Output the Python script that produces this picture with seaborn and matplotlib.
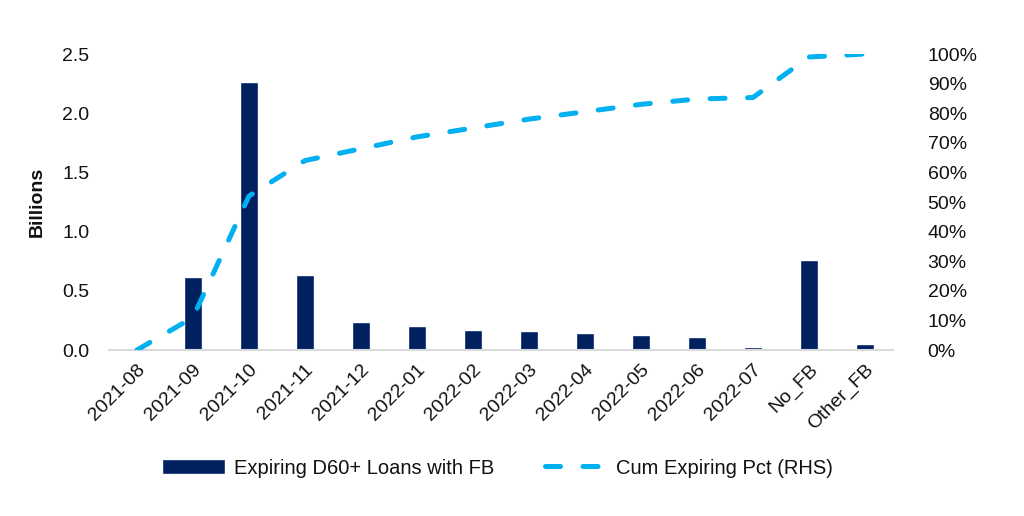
import matplotlib
matplotlib.use("Agg")
import matplotlib.pyplot as plt
import matplotlib.ticker as tkr
import pandas as pd
import seaborn as sns

sns.set_style("white")
plt.rcParams['font.family'] = ['Liberation Sans', 'DejaVu Sans']
plt.rcParams['text.color'] = '#111111'
plt.rcParams['xtick.color'] = '#111111'
plt.rcParams['ytick.color'] = '#111111'
plt.rcParams['axes.labelcolor'] = '#111111'

categories = ['2021-08', '2021-09', '2021-10', '2021-11', '2021-12', '2022-01', '2022-02',
              '2022-03', '2022-04', '2022-05', '2022-06', '2022-07', 'No_FB', 'Other_FB']
loans_bn = [0.0, 0.62, 2.26, 0.63, 0.236, 0.20, 0.17, 0.163, 0.14, 0.127, 0.112, 0.025, 0.76, 0.048]
cum_pct = [0.0, 0.11, 0.52, 0.64, 0.68, 0.72, 0.75, 0.78, 0.805, 0.83, 0.848, 0.853, 0.99, 1.0]

df = pd.DataFrame({'Month': categories, 'Loans': loans_bn, 'Cum': cum_pct})

bar_color = '#002060'
line_color = '#00B0F0'
fs = 14

fig = plt.figure(figsize=(10.24, 5.16), dpi=100)
ax = fig.add_axes([0.1064, 0.3217, 0.7656, 0.5736])
sns.barplot(x='Month', y='Loans', data=df, color=bar_color, width=0.33, ax=ax,
            saturation=1, label='Expiring D60+ Loans with FB')
ax.set_ylim(0, 2.5)
ax.set_xlim(-0.5, len(categories) - 0.5)
ax.yaxis.set_major_locator(tkr.MultipleLocator(0.5))
ax.yaxis.set_major_formatter(tkr.FormatStrFormatter('%.1f'))
ax.set_xlabel('')
ax.set_ylabel('Billions', fontsize=fs, fontweight='bold', labelpad=12)
ax.tick_params(axis='y', length=0, pad=14, labelsize=fs)
ax.tick_params(axis='x', length=0, pad=8, labelsize=fs)
plt.setp(ax.get_xticklabels(), rotation=45, ha='right', rotation_mode='anchor')
for s in ['top', 'right', 'left']:
    ax.spines[s].set_visible(False)
ax.spines['bottom'].set_color('#d9d9d9')
ax.spines['bottom'].set_linewidth(1.5)

ax2 = ax.twinx()
sns.lineplot(x=list(range(len(categories))), y=cum_pct, ax=ax2, color=line_color, linewidth=3.6,
             linestyle=(0, (3, 4.5)), dash_capstyle='round', label='Cum Expiring Pct (RHS)')
ax2.set_ylim(0, 1.0)
ax2.yaxis.set_major_locator(tkr.MultipleLocator(0.1))
ax2.yaxis.set_major_formatter(tkr.PercentFormatter(1.0, decimals=0))
ax2.tick_params(axis='y', length=0, pad=25, labelsize=fs)
for s in ['top', 'right', 'left', 'bottom']:
    ax2.spines[s].set_visible(False)

h1, l1 = ax.get_legend_handles_labels()
h2, l2 = ax2.get_legend_handles_labels()
for a in (ax, ax2):
    if a.get_legend() is not None:
        a.get_legend().remove()
fig.legend(h1 + h2, l1 + l2, loc='center', bbox_to_anchor=(0.486, 0.093), ncol=2,
           frameon=False, fontsize=14.5, handlelength=3.1, columnspacing=2.5, handletextpad=0.45)

plt.savefig('out.png', dpi=100)
